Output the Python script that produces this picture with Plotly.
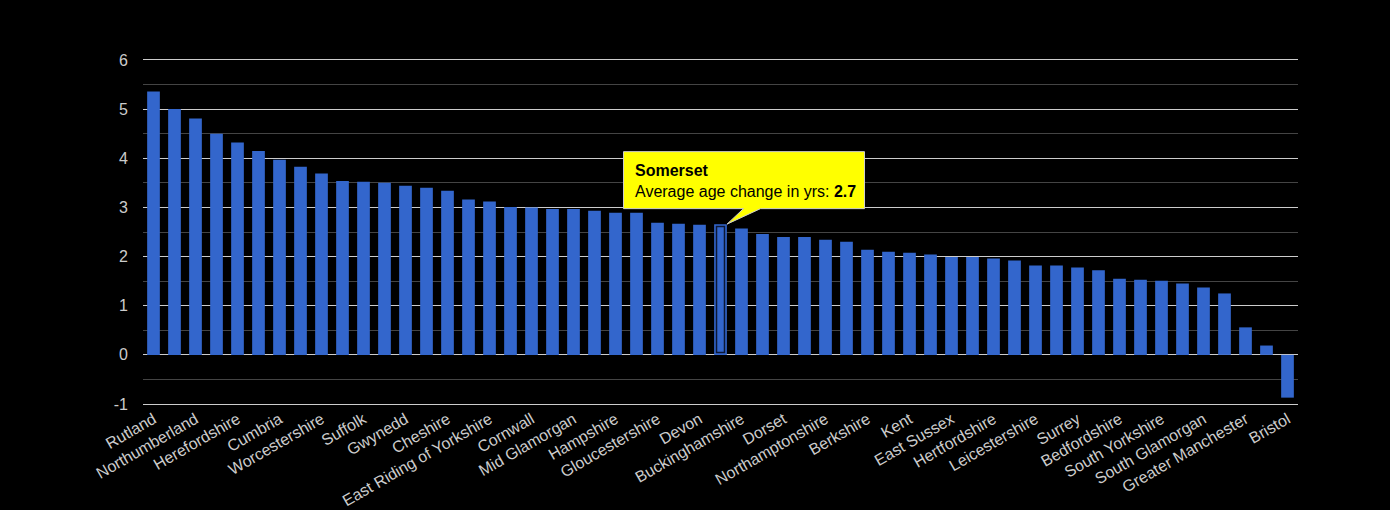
import plotly.graph_objects as go

# areas, sorted by change in average age (years)
areas = [
    "Rutland", "Isle of Wight", "Northumberland", "Powys", "Herefordshire",
    "Shropshire", "Cumbria", "Dyfed", "Worcestershire", "North Yorkshire",
    "Suffolk", "Lincolnshire", "Gwynedd", "Norfolk", "Cheshire",
    "Durham", "East Riding of Yorkshire", "Clwyd", "Cornwall", "Derbyshire",
    "Mid Glamorgan", "West Sussex", "Hampshire", "Staffordshire", "Gloucestershire",
    "Gwent", "Devon", "Somerset", "Buckinghamshire", "Wiltshire",
    "Dorset", "Warwickshire", "Northamptonshire", "Lancashire", "Berkshire",
    "Essex", "Kent", "Cambridgeshire", "East Sussex", "Nottinghamshire",
    "Hertfordshire", "Oxfordshire", "Leicestershire", "Tyne and Wear", "Surrey",
    "Merseyside", "Bedfordshire", "West Glamorgan", "South Yorkshire", "West Yorkshire",
    "South Glamorgan", "West Midlands", "Greater Manchester", "Greater London", "Bristol",
]
age_change = [
    5.36, 5.00, 4.81, 4.50, 4.32,
    4.15, 3.97, 3.83, 3.69, 3.54,
    3.52, 3.50, 3.44, 3.40, 3.34,
    3.16, 3.12, 3.01, 3.00, 2.97,
    2.97, 2.93, 2.89, 2.89, 2.69,
    2.67, 2.65, 2.66, 2.57, 2.46,
    2.40, 2.40, 2.34, 2.30, 2.14,
    2.10, 2.08, 2.04, 1.99, 1.99,
    1.96, 1.92, 1.82, 1.82, 1.78,
    1.72, 1.55, 1.53, 1.51, 1.45,
    1.37, 1.25, 0.56, 0.19, -0.87,
]
# only every other area gets a label on the axis
tick_labels = areas[::2]
y_ticks = [-1, 0, 1, 2, 3, 4, 5, 6]
y_tick_text = [str(v) for v in y_ticks]  # plain hyphen for -1

highlight = "Somerset"
hi = areas.index(highlight)
hi_val = age_change[hi]

fig = go.Figure()
fig.add_trace(go.Bar(x=areas, y=age_change, marker_color="#3366cc",
                     marker_line_width=0, hoverinfo="x+y"))

# selected bar: dark inner outline
fig.add_shape(type="rect", xref="x", yref="y",
              x0=hi - 0.19, x1=hi + 0.19, y0=0.05, y1=hi_val - 0.05,
              line=dict(color="#0c1836", width=1.5), fillcolor="rgba(0,0,0,0)")

# tooltip callout (box + tail), pixel offsets from the bar top
fig.add_shape(type="path", xref="x", yref="y",
              xsizemode="pixel", ysizemode="pixel", xanchor=hi, yanchor=hi_val,
              path="M -97,15.5 L 23,15.5 L 6.5,0 L 40,15.5 L 144,15.5 L 144,72.5 L -97,72.5 Z",
              fillcolor="#ffff00", line=dict(color="#cccccc", width=1), layer="above")
fig.add_annotation(x=hi, y=hi_val, xref="x", yref="y",
                   text=f"<b>{highlight}</b><br>Average age change in yrs: <b>{hi_val:.1f}</b>",
                   showarrow=False, xanchor="left", yanchor="bottom",
                   xshift=-94, yshift=16, align="left", borderpad=7,
                   font=dict(family="Arial, Liberation Sans", size=16, color="#000000"))

fig.update_layout(
    width=1390, height=510,
    paper_bgcolor="#000000", plot_bgcolor="#000000",
    margin=dict(l=143, r=92, t=58, b=104),
    bargap=0.395,
    showlegend=False,
    font=dict(family="Arial, Liberation Sans", size=16, color="#cccccc"),
    xaxis=dict(tickvals=tick_labels, ticktext=tick_labels, tickangle=-30,
               showgrid=False, showline=False, ticks="", automargin=False,
               tickfont=dict(size=16, color="#cccccc")),
    yaxis=dict(range=[-1.04, 6.04], tickvals=y_ticks, ticktext=y_tick_text, showgrid=True,
               gridcolor="#cccccc", gridwidth=1,
               zeroline=True, zerolinecolor="#cccccc", zerolinewidth=1,
               minor=dict(dtick=0.5, showgrid=True, gridcolor="#444444", gridwidth=1),
               ticks="", ticklabelstandoff=14, automargin=False,
               tickfont=dict(size=16, color="#cccccc")),
)

fig.write_html("out.html", config={"displayModeBar": False},
               post_script="document.body.style.margin='0';")
